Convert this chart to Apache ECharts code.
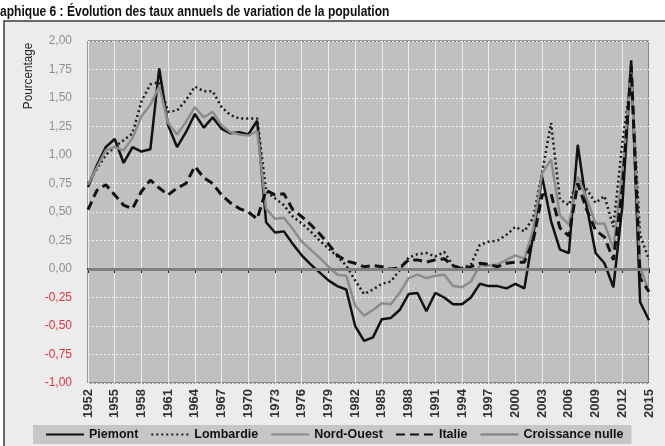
<!DOCTYPE html>
<html>
<head>
<meta charset="utf-8">
<script src="https://cdn.jsdelivr.net/npm/echarts@6/dist/echarts.min.js"></script>
<style>
  html, body { margin: 0; padding: 0; background: #fff; }
  #chart { width: 665px; height: 446px; }
</style>
</head>
<body>
<div id="chart"></div>
<script>
var years = [];
for (var y = 1952; y <= 2015; y++) years.push(String(y));

// taux annuels de variation (%), 1952 -> 2015
var piemont = [0.72, 0.91, 1.07, 1.14, 0.93, 1.07, 1.03, 1.05, 1.76, 1.26,
  1.07, 1.20, 1.36, 1.24, 1.33, 1.23, 1.19, 1.20, 1.18, 1.30,
  0.41, 0.32, 0.33, 0.22, 0.12, 0.04, -0.03, -0.10, -0.15, -0.18,
  -0.50, -0.63, -0.60, -0.44, -0.43, -0.36, -0.22, -0.21, -0.37, -0.21,
  -0.25, -0.31, -0.31, -0.25, -0.13, -0.15, -0.15, -0.17, -0.13, -0.17,
  0.30, 0.81, 0.42, 0.17, 0.14, 1.09, 0.55, 0.14, 0.05, -0.16,
  0.55, 1.83, -0.29, -0.45];
var lombardie = [0.75, 0.88, 1.00, 1.07, 1.13, 1.19, 1.47, 1.62, 1.64, 1.38,
  1.39, 1.48, 1.60, 1.56, 1.56, 1.42, 1.35, 1.32, 1.32, 1.32,
  0.68, 0.62, 0.56, 0.46, 0.40, 0.33, 0.25, 0.18, 0.11, 0.03,
  -0.10, -0.22, -0.18, -0.13, -0.11, -0.01, 0.10, 0.13, 0.14, 0.11,
  0.15, 0.03, 0.01, 0.04, 0.21, 0.24, 0.25, 0.30, 0.37, 0.33,
  0.45, 0.85, 1.28, 0.61, 0.56, 0.80, 0.70, 0.58, 0.64, 0.37,
  1.10, 1.68, 0.30, 0.08];
var nordOuest = [0.74, 0.89, 1.04, 1.07, 1.04, 1.15, 1.34, 1.44, 1.60, 1.28,
  1.18, 1.29, 1.42, 1.33, 1.38, 1.26, 1.20, 1.18, 1.17, 1.21,
  0.53, 0.44, 0.45, 0.35, 0.24, 0.17, 0.10, 0.02, -0.05, -0.06,
  -0.32, -0.41, -0.36, -0.30, -0.31, -0.21, -0.08, -0.05, -0.08, -0.06,
  -0.05, -0.15, -0.16, -0.11, 0.03, 0.03, 0.04, 0.08, 0.12, 0.09,
  0.35, 0.84, 0.96, 0.47, 0.39, 0.81, 0.62, 0.40, 0.40, 0.18,
  0.85, 1.73, 0.02, -0.20];
var italie = [0.52, 0.69, 0.74, 0.65, 0.56, 0.53, 0.68, 0.78, 0.71, 0.65,
  0.71, 0.75, 0.90, 0.80, 0.75, 0.65, 0.58, 0.53, 0.50, 0.44,
  0.69, 0.65, 0.66, 0.52, 0.46, 0.39, 0.31, 0.22, 0.12, 0.07,
  0.05, 0.02, 0.03, 0.02, 0.00, 0.01, 0.08, 0.08, 0.06, 0.08,
  0.09, 0.03, 0.00, 0.02, 0.05, 0.04, 0.02, 0.05, 0.06, 0.06,
  0.25, 0.65, 0.66, 0.36, 0.29, 0.75, 0.52, 0.34, 0.28, 0.08,
  0.70, 1.78, -0.08, -0.20];
var croissanceNulle = 0;

var font = "'Liberation Sans Narrow', 'Liberation Sans', Arial, sans-serif";

var myChart = echarts.init(document.getElementById('chart'));

function lineSeries(name, data, color, width, type) {
  return {
    name: name,
    type: 'line',
    data: data,
    symbol: 'none',
    showSymbol: false,
    color: color,
    lineStyle: { color: color, width: width, type: type },
    itemStyle: { color: color },
    emphasis: { disabled: true },
    z: 3
  };
}

var option = {
  animation: false,
  graphic: [
    {
      type: 'rect',
      z: -10,
      shape: { x: 4, y: 21, width: 700, height: 440 },
      style: { fill: '#ececec', stroke: '#3a3a3a', lineWidth: 1.5 }
    },
    {
      // titre (le début est coupé par le bord de l'image)
      type: 'text',
      x: -14, y: 12,
      scaleX: 0.86,
      style: {
        text: 'Graphique 6 : Évolution des taux annuels de variation de la population',
        font: 'bold 14px ' + font,
        fill: '#111',
        textAlign: 'left',
        textVerticalAlign: 'middle'
      }
    },
    {
      type: 'text',
      x: 28, y: 76,
      rotation: Math.PI / 2,
      scaleX: 0.9,
      style: {
        text: 'Pourcentage',
        font: '13px ' + font,
        fill: '#222',
        textAlign: 'center',
        textVerticalAlign: 'middle'
      }
    }
  ],
  legend: {
    left: 33,
    top: 425,
    padding: [3, 8, 3, 12],
    backgroundColor: '#c6c6c6',
    itemWidth: 38,
    itemHeight: 10,
    itemGap: 12,
    itemStyle: { opacity: 0 },
    textStyle: { fontFamily: font, fontSize: 12.5, fontWeight: 'bold', color: '#111' },
    data: ['Piemont', 'Lombardie', 'Nord-Ouest', 'Italie', 'Croissance nulle']
  },
  grid: {
    left: 88,
    right: 16,
    top: 41,
    bottom: 63,
    show: true,
    backgroundColor: '#c0c0c0',
    borderColor: '#4a4a4a',
    borderWidth: 1
  },
  xAxis: {
    type: 'category',
    data: years,
    boundaryGap: false,
    axisLine: { lineStyle: { color: '#222', width: 2 } },
    axisTick: { interval: 2, length: 4, lineStyle: { color: '#222' } },
    axisLabel: {
      interval: 2,
      rotate: 90,
      margin: 6,
      fontFamily: font,
      fontSize: 13,
      fontWeight: 'bold',
      color: '#333'
    },
    splitLine: { show: true, interval: 2, lineStyle: { color: '#ececec', width: 1 } }
  },
  yAxis: {
    type: 'value',
    min: -1,
    max: 2,
    interval: 0.25,
    axisLine: { show: false },
    axisTick: { show: false },
    axisLabel: {
      margin: 16,
      fontFamily: font,
      fontSize: 12,
      formatter: function (v) { return v.toFixed(2).replace('.', ','); },
      color: function (v) { return Number(v) < 0 ? '#e8333a' : '#8f8f8f'; }
    },
    splitLine: { lineStyle: { color: '#f2f2f2', width: 1, type: [2, 2] } }
  },
  series: [
    lineSeries('Piemont', piemont, '#111111', 2.5, 'solid'),
    lineSeries('Lombardie', lombardie, '#1a1a1a', 2.5, [2, 3]),
    lineSeries('Nord-Ouest', nordOuest, '#8c8c8c', 2.5, 'solid'),
    lineSeries('Italie', italie, '#111111', 3, [9, 5]),
    {
      name: 'Croissance nulle',
      type: 'line',
      data: [],
      color: '#7f7f7f',
      lineStyle: { color: '#7f7f7f', width: 3 },
      itemStyle: { color: '#7f7f7f' },
      symbol: 'none',
      z: 4,
      markLine: {
        silent: true,
        symbol: 'none',
        label: { show: false },
        lineStyle: { color: '#7f7f7f', width: 3, type: 'solid' },
        data: [{ yAxis: croissanceNulle }]
      }
    }
  ]
};

myChart.setOption(option);
</script>
</body>
</html>
